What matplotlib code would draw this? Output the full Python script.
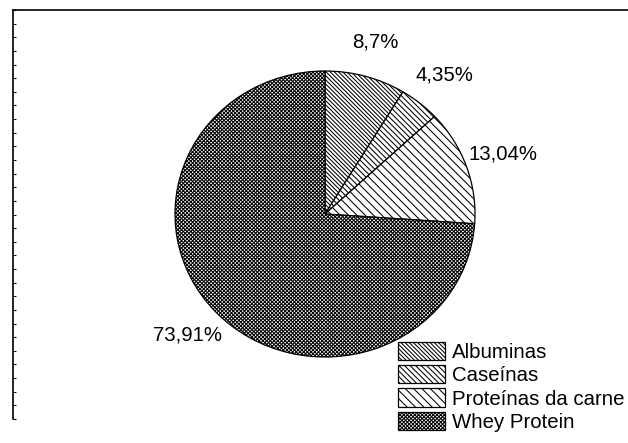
import matplotlib.pyplot as plt
import numpy as np

plt.rcParams['font.family'] = ['Liberation Sans', 'DejaVu Sans']
plt.rcParams['hatch.linewidth'] = 0.75

categories = ["Albuminas", "Caseínas", "Proteínas da carne", "Whey Protein"]
values = [8.7, 4.35, 13.04, 73.91]
pct_labels = ["8,7%", "4,35%", "13,04%", "73,91%"]
hatches = ["\\" * 8, "\\" * 6, "\\" * 4, "x" * 9]

W, H = 628, 443
fig = plt.figure(figsize=(W / 100, H / 100), dpi=100)


def box(x0, y0, x1, y1):
    # pixel box (image coords, y down) -> figure fraction
    return [x0 / W, 1 - y1 / H, (x1 - x0) / W, (y1 - y0) / H]


# frame with top and left lines only
frame = fig.add_axes(box(13, 10, 628, 419))
for s in ["right", "bottom"]:
    frame.spines[s].set_visible(False)
frame.spines["left"].set_linewidth(1.2)
frame.spines["top"].set_linewidth(1.2)
frame.set_xlim(0, 1)
frame.set_ylim(0, 30)
frame.set_yticks(np.arange(0, 31, 1))
frame.set_xticks([])
frame.tick_params(axis="y", direction="in", length=2, width=0.8, labelleft=False)

# pie is slightly wider than tall in the reference
ax = fig.add_axes(box(175, 71, 475, 357))
wedges, _ = ax.pie(values, startangle=90, counterclock=False,
                   colors=["white"] * 4, radius=1,
                   wedgeprops=dict(edgecolor="black", linewidth=0.9))
for w, h in zip(wedges, hatches):
    w.set_hatch(h)
ax.set_aspect("auto")
ax.set_xlim(-1.0, 1.0)
ax.set_ylim(-1.0, 1.0)
ax.axis("off")

label_pos = [(375, 42), (444, 75), (503, 154), (188, 335)]
for (px, py), t in zip(label_pos, pct_labels):
    fig.text(px / W, 1 - py / H, t, ha="center", va="center", fontsize=14.7)

leg = fig.legend(wedges, categories, loc="upper left",
                 bbox_to_anchor=(398 / W, 1 - 342 / H), frameon=False,
                 fontsize=14.7, handlelength=2.3, handleheight=1.0,
                 labelspacing=0.15, handletextpad=0.35, borderpad=0,
                 borderaxespad=0)

fig.savefig("out.png", dpi=100)
